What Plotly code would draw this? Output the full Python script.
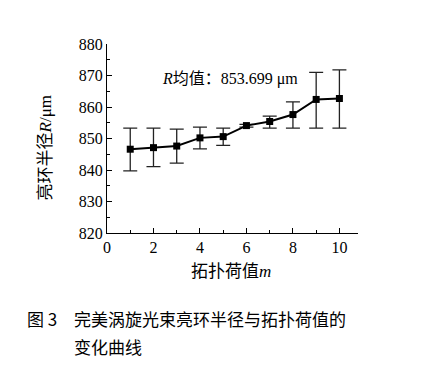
import plotly.graph_objects as go

m_values = [1, 2, 3, 4, 5, 6, 7, 8, 9, 10]
radius = [846.6, 847.1, 847.6, 850.2, 850.6, 854.1, 855.4, 857.6, 862.4, 862.7]
err_upper = [853.3, 853.3, 853.0, 853.6, 853.3, 854.5, 857.1, 861.6, 871.0, 871.8]
err_lower = [839.7, 841.1, 842.2, 846.7, 847.8, 853.6, 853.3, 853.3, 853.3, 853.3]

plus = [u - r for u, r in zip(err_upper, radius)]
minus = [r - l for l, r in zip(err_lower, radius)]

serif = "Liberation Serif, Noto Sans CJK SC"
cjk = "Noto Sans CJK SC"

OFF = 8  # page body margin
W, H = 415, 363
# target screen-pixel plot box
X0, X1, Y0, Y1 = 107, 358, 43.5, 232.7
L, R, T, B = X0 - OFF, W - (X1 - OFF), Y0 - OFF, H - (Y1 - OFF)
plot_w = W - L - R
plot_h = H - T - B


def px_to_paper(px, py):
    return (px - OFF - L) / plot_w, (H - B - (py - OFF)) / plot_h


fig = go.Figure()
fig.add_trace(go.Scatter(
    x=m_values, y=radius, mode="lines+markers",
    line=dict(color="black", width=2),
    marker=dict(symbol="square", size=7, color="black"),
    error_y=dict(type="data", symmetric=False, array=plus, arrayminus=minus,
                 color="#222", thickness=1.3, width=7),
    showlegend=False,
))

fx, fy = px_to_paper(25, 318)
cx1, cy1 = px_to_paper(72, 318)
cx2, cy2 = px_to_paper(72, 346)
tx, ty = px_to_paper(45, 148)
xx, xy = px_to_paper(231, 271)

fig.update_layout(
    width=W, height=H,
    margin=dict(l=L, r=R, t=T, b=B, autoexpand=False),
    paper_bgcolor="white", plot_bgcolor="white",
    font=dict(family=serif, color="black", size=16),
    xaxis=dict(range=[0, 10.8], tickvals=[0, 2, 4, 6, 8, 10], ticks="inside",
               ticklen=5, tickwidth=1, tickcolor="black",
               minor=dict(tickvals=[1, 3, 5, 7, 9], ticks="inside", ticklen=3, tickcolor="black"),
               showline=True, linecolor="black", linewidth=1, showgrid=False, zeroline=False,
               tickfont=dict(family=serif, size=16), automargin=False),
    yaxis=dict(range=[820, 880], dtick=10, ticks="inside",
               ticklen=5, tickwidth=1, tickcolor="black",
               minor=dict(dtick=5, ticks="inside", ticklen=3, tickcolor="black"),
               showline=True, linecolor="black", linewidth=1, showgrid=False, zeroline=False,
               tickfont=dict(family=serif, size=16), automargin=False),
    annotations=[
        dict(text="<i>R</i>均值：853.699 μm", x=5.3, y=869.0, xref="x", yref="y",
             showarrow=False, font=dict(family=serif, size=16)),
        dict(text="亮环半径<i>R</i>/μm", x=tx, y=ty, xref="paper", yref="paper",
             textangle=-90, showarrow=False, xanchor="center", yanchor="middle",
             font=dict(family=serif, size=17)),
        dict(text="拓扑荷值<i>m</i>", x=xx, y=xy, xref="paper", yref="paper",
             showarrow=False, xanchor="center", yanchor="middle",
             font=dict(family=serif, size=17)),
        dict(text="图 3", x=fx, y=fy,
             xref="paper", yref="paper", showarrow=False, xanchor="left", yanchor="middle",
             font=dict(family=cjk, size=17)),
        dict(text="完美涡旋光束亮环半径与拓扑荷值的", x=cx1, y=cy1,
             xref="paper", yref="paper", showarrow=False, xanchor="left", yanchor="middle",
             font=dict(family=cjk, size=17)),
        dict(text="变化曲线", x=cx2, y=cy2, xref="paper", yref="paper",
             showarrow=False, xanchor="left", yanchor="middle", font=dict(family=cjk, size=17)),
    ],
)

fig.write_html("out.html")
